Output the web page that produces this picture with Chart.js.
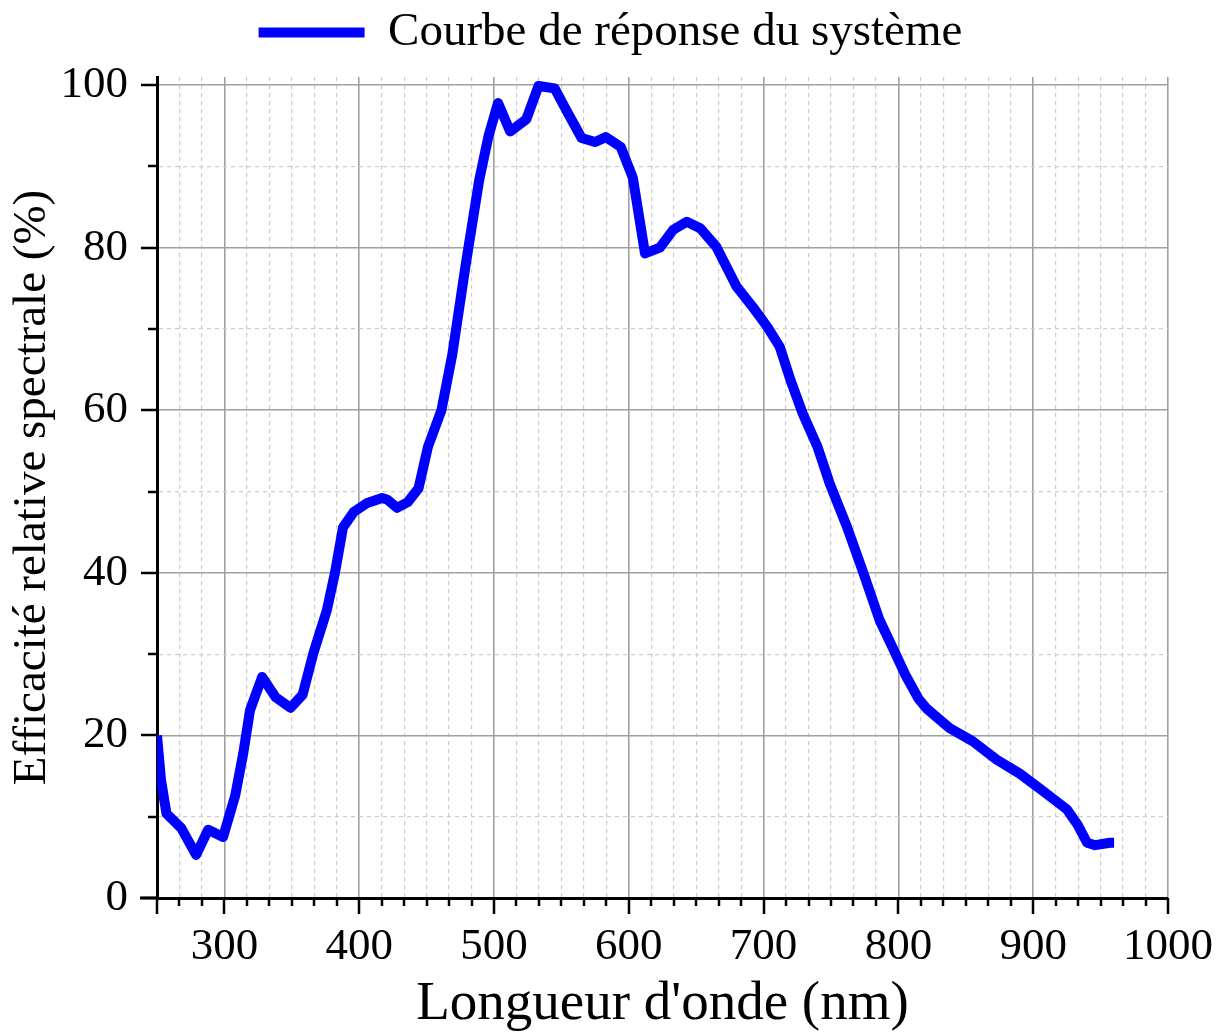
<!DOCTYPE html>
<html>
<head>
<meta charset="utf-8">
<script src="https://cdn.jsdelivr.net/npm/chart.js@4.4.1/dist/chart.umd.min.js"></script>
<style>
    html, body { margin: 0; padding: 0; background: #fff; }
    #wrap { width: 1221px; height: 1032px; }
</style>
</head>
<body>
<div id="wrap"><canvas id="responseChart"></canvas></div>
<script>

// Spectral response of the system (nm -> %)
const wavelengths = [
    250, 253, 257, 268, 279, 288, 299, 308, 314, 319, 328, 338, 349, 358, 366, 376,
    382, 388, 396, 406, 417, 421, 428, 436, 444, 451, 461, 469, 479, 489, 496, 503,
    512, 524, 533, 545, 555, 565, 575, 583, 594, 603, 612, 623, 633, 643, 653, 665,
    680, 692, 703, 712, 720, 729, 740, 749, 762, 774, 786, 796, 805, 815, 821, 838,
    855, 873, 890, 907, 925, 933, 940, 946, 957, 960
];

const efficiency = [
    20.0, 14.5, 10.4, 8.6, 5.3, 8.4, 7.5, 12.6, 17.8, 23.1, 27.2, 24.7, 23.4, 25.0, 30.1, 35.4,
    40.0, 45.6, 47.5, 48.6, 49.2, 49.0, 48.0, 48.7, 50.4, 55.5, 60.0, 66.8, 77.9, 88.3, 93.8, 97.8,
    94.3, 95.8, 99.9, 99.6, 96.5, 93.5, 93.0, 93.6, 92.4, 88.6, 79.3, 80.0, 82.2, 83.2, 82.4, 80.1,
    75.2, 72.7, 70.2, 67.8, 63.7, 59.6, 55.5, 51.0, 45.6, 40.0, 34.2, 30.7, 27.5, 24.5, 23.3, 20.9,
    19.3, 17.0, 15.3, 13.2, 10.9, 9.0, 6.8, 6.5, 6.8, 6.8
];

const xTickLabels = [300, 400, 500, 600, 700, 800, 900, 1000];
const yTickLabels = [0, 20, 40, 60, 80, 100];

const X_MIN = 250;
const X_MAX = 1000;
const X_STEP = 100 / 6;   // 5 minor ticks between labelled ticks
const Y_MIN = 0;
const Y_MAX = 101;
const Y_STEP = 10;

const LEGEND_HEIGHT = 77;

const FONT = "'Liberation Serif', 'Times New Roman', Times, serif";

const isLabelled = (list, v) => list.some(l => Math.abs(l - v) < 1e-6);

// tick marks drawn outside the plot, long on labelled values
const tickMarks = {
    id: "tickMarks",
    afterDraw(chart) {
        const { ctx, scales } = chart;
        const x = scales.x;
        const y = scales.y;
        ctx.save();
        ctx.strokeStyle = "#000";
        ctx.lineWidth = 2.5;
        ctx.lineCap = "butt";

        x.ticks.forEach(t => {
            const px = Math.round(x.getPixelForValue(t.value));
            const len = isLabelled(xTickLabels, t.value) || Math.abs(t.value - X_MIN) < 1e-6 ? 16 : 8;
            ctx.beginPath();
            ctx.moveTo(px, x.top);
            ctx.lineTo(px, x.top + len);
            ctx.stroke();
        });

        y.ticks.forEach(t => {
            const py = Math.round(y.getPixelForValue(t.value));
            const len = isLabelled(yTickLabels, t.value) ? 16 : 9;
            ctx.beginPath();
            ctx.moveTo(y.right, py);
            ctx.lineTo(y.right - len, py);
            ctx.stroke();
        });

        // bottom axis line runs a little past the left axis
        ctx.lineWidth = 3;
        ctx.beginPath();
        ctx.moveTo(y.right - 17, x.top);
        ctx.lineTo(y.right, x.top);
        ctx.stroke();

        ctx.restore();
    }
};

// fixed-height band for the legend above the plot
const legendSpacing = {
    id: "legendSpacing",
    beforeLayout(chart) {
        const legend = chart.legend;
        if (!legend || legend._fixedHeight) return;
        const fit = legend.fit.bind(legend);
        legend.fit = function () {
            fit();
            this.height = LEGEND_HEIGHT;
        };
        legend._fixedHeight = true;
    }
};

Chart.defaults.font.family = FONT;
Chart.defaults.color = "#000";

const ctx = document.getElementById("responseChart");

new Chart(ctx, {
    type: "line",
    data: {
        datasets: [{
            label: "Courbe de réponse du système",
            data: wavelengths.map((w, i) => ({ x: w, y: efficiency[i] })),
            borderColor: "#0000ff",
            backgroundColor: "#0000ff",
            borderWidth: 10,
            pointRadius: 0,
            pointStyle: "line",
            tension: 0,
            fill: false,
            borderJoinStyle: "round"
        }]
    },
    options: {
        responsive: true,
        maintainAspectRatio: false,
        animation: false,
        events: [],
        layout: {
            padding: 0
        },
        plugins: {
            legend: {
                display: true,
                position: "top",
                labels: {
                    usePointStyle: true,
                    pointStyleWidth: 106,
                    font: { size: 47 },
                    padding: 9,
                    color: "#000"
                }
            },
            tooltip: { enabled: false }
        },
        scales: {
            x: {
                type: "linear",
                min: X_MIN,
                max: X_MAX,
                afterBuildTicks(scale) {
                    const ticks = [];
                    for (let k = 0; k <= Math.round((X_MAX - X_MIN) / X_STEP); k++) {
                        ticks.push({ value: X_MIN + k * X_STEP });
                    }
                    scale.ticks = ticks;
                },
                afterFit(scale) {
                    scale.height = 134;
                    scale.paddingLeft = 0;
                    scale.paddingRight = 53;   // room for the "1000" label
                },
                ticks: {
                    autoSkip: false,
                    maxRotation: 0,
                    padding: 22,
                    font: { size: 45 },
                    callback: v => isLabelled(xTickLabels, v) ? String(Math.round(v)) : ""
                },
                grid: {
                    drawTicks: false,
                    color: c => isLabelled(xTickLabels, c.tick.value) ? "#a0a0a0" : "#cccccc",
                    lineWidth: c => isLabelled(xTickLabels, c.tick.value) ? 1.6 : 1.2
                },
                border: {
                    display: true,
                    color: "#000",
                    width: 3,
                    dash: c => (c.type === "tick" && !isLabelled(xTickLabels, c.tick.value)) ? [4, 4] : []
                },
                title: {
                    display: true,
                    text: "Longueur d'onde (nm)",
                    font: { size: 55, lineHeight: 1 },
                    padding: { top: 0, bottom: 0 }
                }
            },
            y: {
                type: "linear",
                min: Y_MIN,
                max: Y_MAX,
                afterBuildTicks(scale) {
                    const ticks = [];
                    for (let v = Y_MIN; v <= 100; v += Y_STEP) {
                        ticks.push({ value: v });
                    }
                    scale.ticks = ticks;
                },
                afterFit(scale) {
                    scale.width = 157;
                },
                ticks: {
                    autoSkip: false,
                    padding: 29,
                    font: { size: 45 },
                    callback: v => isLabelled(yTickLabels, v) ? String(v) : ""
                },
                grid: {
                    drawTicks: false,
                    color: c => isLabelled(yTickLabels, c.tick.value) ? "#a0a0a0" : "#cccccc",
                    lineWidth: c => isLabelled(yTickLabels, c.tick.value) ? 1.6 : 1.2
                },
                border: {
                    display: true,
                    color: "#000",
                    width: 3,
                    dash: c => (c.type === "tick" && !isLabelled(yTickLabels, c.tick.value)) ? [4, 4] : []
                },
                title: {
                    display: true,
                    text: "Efficacité relative spectrale (%)",
                    font: { size: 47 },
                    padding: { top: 4, bottom: 0 }
                }
            }
        }
    },
    plugins: [tickMarks, legendSpacing]
});

</script>
</body>
</html>
